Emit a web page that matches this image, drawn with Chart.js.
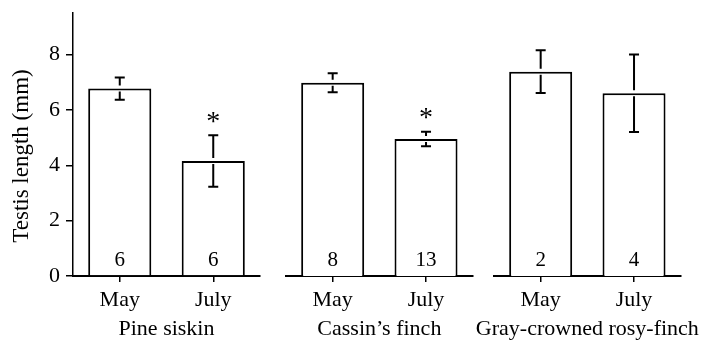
<!DOCTYPE html>
<html>
<head>
<meta charset="utf-8">
<script src="https://cdn.jsdelivr.net/npm/chart.js@4.4.0/dist/chart.umd.min.js"></script>
<style>
  html, body { margin: 0; padding: 0; background: #fff; }
  #wrap { position: relative; width: 709px; height: 340px; }
  #wrap canvas { position: absolute; left: 0; top: 0; }
</style>
</head>
<body>
<div id="wrap">
  <canvas id="c0" width="709" height="340"></canvas>
  <canvas id="c1" width="709" height="340"></canvas>
  <canvas id="c2" width="709" height="340"></canvas>
</div>
<script>
// data ---------------------------------------------------------------
const species = ['Pine siskin', 'Cassin\u2019s finch', 'Gray-crowned rosy-finch']
const months = ['May', 'July']
const meanLength = [[6.77, 4.15], [6.98, 4.95], [7.38, 6.6]]
const seLength = [[0.4, 0.93], [0.34, 0.26], [0.77, 1.4]]
const sampleSize = [[6, 6], [8, 13], [2, 4]]
const significant = [[false, true], [false, true], [false, false]]
const yTicks = [0, 2, 4, 6, 8]
const yMax = 9.5
const yTitle = 'Testis length (mm)'

// layout: plot area of each panel, in page pixels
const W = 709
const areaLeft = [73, 286, 494]
const areaRight = [260, 472.7, 680.7]
const serif = "'Liberation Serif', 'Times New Roman', serif"

Chart.defaults.font.family = serif
Chart.defaults.color = '#000'

// error bars, n labels, asterisks, species names
const extras = {
  id: 'extras',
  afterDatasetsDraw(chart) {
    const i = chart.options.plugins.extras.panel
    const ctx = chart.ctx
    const y = chart.scales.y
    const bars = chart.getDatasetMeta(0).data
    ctx.save()
    ctx.strokeStyle = '#000'
    ctx.fillStyle = '#000'
    ctx.lineWidth = 2
    bars.forEach((bar, j) => {
      const m = meanLength[i][j]
      const se = seLength[i][j]
      const yM = y.getPixelForValue(m)
      const yUp = y.getPixelForValue(m + se)
      const yLo = y.getPixelForValue(m - se)
      const x = bar.x
      const gap = 3
      ctx.beginPath()
      ctx.moveTo(x, yUp); ctx.lineTo(x, yM - gap)
      ctx.moveTo(x, yM + gap); ctx.lineTo(x, yLo)
      ctx.moveTo(x - 5, yUp); ctx.lineTo(x + 5, yUp)
      ctx.moveTo(x - 5, yLo); ctx.lineTo(x + 5, yLo)
      ctx.stroke()

      ctx.font = '21px ' + serif
      ctx.textAlign = 'center'
      ctx.textBaseline = 'alphabetic'
      ctx.fillText(String(sampleSize[i][j]), x, y.getPixelForValue(0) - 10)

      if (significant[i][j]) {
        ctx.font = '28px ' + serif
        const mt = ctx.measureText('*')
        const cy = yUp - 18
        ctx.fillText('*', x, cy + (mt.actualBoundingBoxAscent - mt.actualBoundingBoxDescent) / 2)
      }
    })
    ctx.restore()
  },
  afterDraw(chart) {
    const i = chart.options.plugins.extras.panel
    const ctx = chart.ctx
    const area = chart.chartArea
    ctx.save()
    ctx.font = '22px ' + serif
    ctx.fillStyle = '#000'
    ctx.textAlign = 'center'
    ctx.textBaseline = 'alphabetic'
    ctx.fillText(species[i], (area.left + area.right) / 2, 335)
    if (i === 0) {
      ctx.font = '23px ' + serif
      ctx.translate(22, 156)
      ctx.rotate(-Math.PI / 2)
      ctx.textBaseline = 'middle'
      ctx.fillText(yTitle, 0, 0)
    }
    ctx.restore()
  }
}

function makePanel(i) {
  const first = i === 0
  return new Chart(document.getElementById('c' + i), {
    type: 'bar',
    data: {
      labels: months,
      datasets: [{
        data: meanLength[i],
        backgroundColor: '#fff',
        borderColor: '#000',
        borderWidth: 2,
        borderSkipped: 'start',
        barPercentage: 1,
        categoryPercentage: 0.675
      }]
    },
    options: {
      responsive: false,
      animation: false,
      layout: {
        padding: { left: first ? 0 : areaLeft[i], right: W - areaRight[i], top: 13, bottom: 0 }
      },
      plugins: {
        legend: { display: false },
        tooltip: { enabled: false },
        extras: { panel: i }
      },
      scales: {
        x: {
          grid: { drawOnChartArea: false, drawTicks: true, tickLength: 6, color: '#000', lineWidth: 1.5, offset: false },
          border: { display: true, color: '#000', width: 2 },
          ticks: { color: '#000', font: { size: 22 }, padding: 5 },
          afterFit: s => { s.height = 64 }
        },
        y: {
          display: first,
          min: 0,
          max: yMax,
          afterBuildTicks: s => { s.ticks = yTicks.map(v => ({ value: v })) },
          grid: { drawOnChartArea: false, drawTicks: true, tickLength: 7, color: '#000', lineWidth: 1.5 },
          border: { display: true, color: '#000', width: 1.5 },
          ticks: { color: '#000', font: { size: 22 }, padding: 6 },
          afterFit: s => {
            s.width = first ? 73 : 0
            s.paddingTop = 0
            s.paddingBottom = 0
          }
        }
      }
    },
    plugins: [extras]
  })
}

species.forEach((_, i) => makePanel(i))
</script>
</body>
</html>
